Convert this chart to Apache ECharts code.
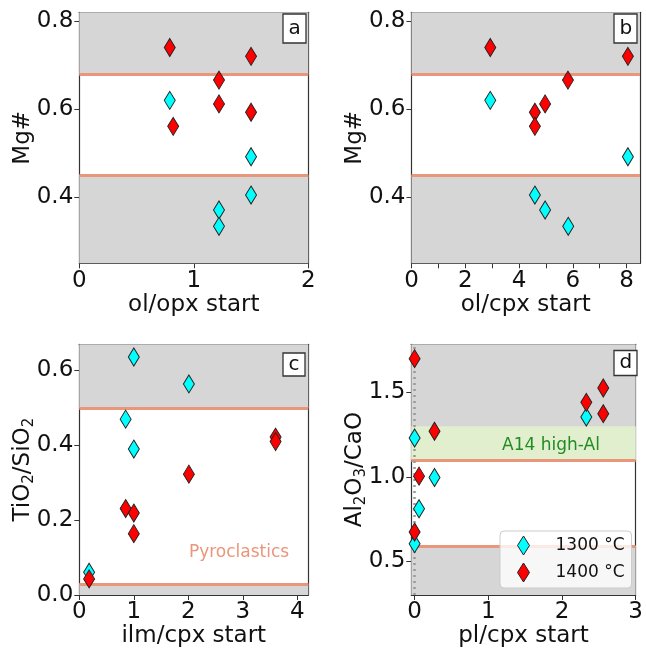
<!DOCTYPE html>
<html><head><meta charset="utf-8">
<script src="https://cdn.jsdelivr.net/npm/echarts@6/dist/echarts.min.js"></script>
<style>html,body{margin:0;padding:0;background:#fff}#c{width:646px;height:653px}</style>
</head><body><div id="c"></div>
<script>
// ---- data ----
const seriesNames = ['1300 °C', '1400 °C'];
// panel a: ol/opx start vs Mg#
const a_x_1300 = [0.79, 1.50, 1.50, 1.22, 1.22];
const a_y_1300 = [0.620, 0.492, 0.405, 0.371, 0.334];
const a_x_1400 = [0.79, 1.50, 1.22, 1.22, 1.50, 0.82];
const a_y_1400 = [0.740, 0.720, 0.666, 0.612, 0.593, 0.561];
// panel b: ol/cpx start vs Mg#
const b_x_1300 = [2.93, 8.05, 4.59, 4.97, 5.83];
const b_y_1300 = [0.620, 0.492, 0.405, 0.371, 0.334];
const b_x_1400 = [2.93, 8.05, 5.82, 4.97, 4.59, 4.59];
const b_y_1400 = [0.740, 0.720, 0.666, 0.612, 0.593, 0.561];
// panel c: ilm/cpx start vs TiO2/SiO2
const c_x_1300 = [1.00, 2.01, 0.85, 1.00, 0.18];
const c_y_1300 = [0.636, 0.564, 0.470, 0.390, 0.061];
const c_x_1400 = [0.18, 0.85, 1.00, 1.00, 2.01, 3.60, 3.60];
const c_y_1400 = [0.043, 0.231, 0.219, 0.164, 0.323, 0.422, 0.410];
// panel d: pl/cpx start vs Al2O3/CaO
const d_x_1300 = [2.33, 0.00, 0.27, 0.06, 0.00];
const d_y_1300 = [1.354, 1.230, 0.996, 0.811, 0.604];
const d_x_1400 = [0.00, 2.56, 2.33, 2.56, 0.27, 0.06, 0.00];
const d_y_1400 = [1.700, 1.526, 1.441, 1.374, 1.270, 1.004, 0.673];
// reference ranges
const a_range = [0.45, 0.68];
const c_range = [0.03, 0.50];
const d_range = [0.59, 1.10];
const d_highAl = [1.10, 1.30];
// axes
const xTicks = [[0, 1, 2], [0, 2, 4, 6, 8], [0, 1, 2, 3, 4], [0, 1, 2, 3]];
const xMinor = [null, [0, 1, 2, 3, 4, 5, 6, 7, 8], null, null];
const yTicks = [[0.4, 0.6, 0.8], [0.4, 0.6, 0.8], [0.0, 0.2, 0.4, 0.6], [0.5, 1.0, 1.5]];
const xLim = [[0, 2], [0, 8.5], [0, 4.2], [-0.045, 3]];
const yLim = [[0.25, 0.82], [0.25, 0.82], [0, 0.67], [0.3, 1.785]];
const xNames = ['ol/opx start', 'ol/cpx start', 'ilm/cpx start', 'pl/cpx start'];
const yNames = ['Mg#', 'Mg#', 'TiO{s|2}/SiO{s|2}', 'Al{s|2}O{s|3}/CaO'];
const panelLetters = ['a', 'b', 'c', 'd'];

// ---- styling ----
const FONT = 'DejaVu Sans';
const GRAY = '#d6d6d6';
const SALMON = '#e9967a';
const COLORS = ['#00ffff', '#ff0000'];
const TICK_FS = 23, NAME_FS = 23;
const grids = [
  {left: 79.3, top: 12.3, width: 229, height: 251},
  {left: 411.5, top: 12.3, width: 228.5, height: 251},
  {left: 79.3, top: 344.3, width: 229, height: 250.7},
  {left: 411.3, top: 344.3, width: 229, height: 250.7}
];
const boxes = [
  {left: 283, top: 14, pad: [4.5, 5.5]},
  {left: 614, top: 14, pad: [4.5, 5.5]},
  {left: 283, top: 353, pad: [1.5, 5.5]},
  {left: 614, top: 350, pad: [3, 5.5]}
];
const zip = (xs, ys) => xs.map((x, i) => [x, ys[i]]);
const fmt1 = v => (Math.abs(v) < 1e-9 ? '0.0' : v.toFixed(1));

const xAxes = [], yAxes = [], series = [];
for (let i = 0; i < 4; i++) {
  xAxes.push({
    gridIndex: i, type: 'value', min: xLim[i][0], max: xLim[i][1],
    splitLine: {show: false},
    axisLine: {show: true, onZero: false, lineStyle: {color: '#333', width: 1.2}},
    axisTick: {show: true, length: 5, customValues: xMinor[i] || xTicks[i], lineStyle: {color: '#333'}},
    axisLabel: {customValues: xTicks[i], fontSize: TICK_FS, color: '#111', fontFamily: FONT, margin: 6,
      formatter: v => String(v)},
    name: xNames[i], nameLocation: 'middle', nameGap: 30, nameMoveOverlap: false,
    nameTextStyle: {fontSize: NAME_FS, color: '#111', fontFamily: FONT}
  });
  xAxes.push({
    gridIndex: i, type: 'value', position: 'top', min: xLim[i][0], max: xLim[i][1],
    splitLine: {show: false}, axisTick: {show: false}, axisLabel: {show: false},
    axisLine: {show: true, onZero: false, lineStyle: {color: '#333', width: 1.2}}
  });
  yAxes.push({
    gridIndex: i, type: 'value', min: yLim[i][0], max: yLim[i][1],
    splitLine: {show: false},
    axisLine: {show: true, onZero: false, lineStyle: {color: '#333', width: 1.2}},
    axisTick: {show: true, length: 5, customValues: yTicks[i], lineStyle: {color: '#333'}},
    axisLabel: {customValues: yTicks[i], fontSize: TICK_FS, color: '#111', fontFamily: FONT, margin: 6,
      formatter: fmt1},
    name: yNames[i], nameLocation: 'middle', nameGap: 43, nameMoveOverlap: false,
    nameTextStyle: {fontSize: NAME_FS, color: '#111', fontFamily: FONT, lineHeight: 27,
      rich: {s: {fontSize: 15, lineHeight: 12, verticalAlign: 'bottom', fontFamily: FONT, color: '#111'}}}
  });
  yAxes.push({
    gridIndex: i, type: 'value', position: 'right', min: yLim[i][0], max: yLim[i][1],
    splitLine: {show: false}, axisTick: {show: false}, axisLabel: {show: false},
    axisLine: {show: true, onZero: false, lineStyle: {color: '#333', width: 1.2}}
  });
}

// background series with shaded regions and lines
function bgSeries(i, areas, lines, extraLines, points) {
  return {
    type: 'scatter', xAxisIndex: 2 * i, yAxisIndex: 2 * i, data: [], z: 1, silent: true,
    markArea: {silent: true, z: 1, data: areas},
    markLine: {silent: true, z: 2, symbol: 'none', label: {show: false}, animation: false,
      data: lines.concat(extraLines || [])},
    markPoint: points ? {silent: true, z: 2, symbol: 'circle', symbolSize: 0, data: points} : undefined
  };
}
const hLine = v => ({yAxis: v, lineStyle: {color: SALMON, width: 3, type: 'solid'}});
const grayArea = (lo, hi) => [{yAxis: lo, itemStyle: {color: GRAY}}, {yAxis: hi}];

series.push(bgSeries(0, [grayArea(a_range[1], yLim[0][1]), grayArea(yLim[0][0], a_range[0])], a_range.map(hLine)));
series.push(bgSeries(1, [grayArea(a_range[1], yLim[1][1]), grayArea(yLim[1][0], a_range[0])], a_range.map(hLine)));
series.push(bgSeries(2, [grayArea(c_range[1], yLim[2][1]), grayArea(yLim[2][0], c_range[0])], c_range.map(hLine), [],
  [{coord: [2.93, 0.113], label: {show: true, position: 'inside', formatter: 'Pyroclastics', color: SALMON, fontSize: 17, fontFamily: FONT}}]));
series.push(bgSeries(3, [
    grayArea(d_range[1], yLim[3][1]),
    grayArea(yLim[3][0], d_range[0]),
    [{yAxis: d_highAl[0], itemStyle: {color: '#e2efcf'}}, {yAxis: d_highAl[1]}]
  ], d_range.map(hLine),
  [{xAxis: 0, lineStyle: {color: '#999', width: 2.5, type: [2, 4]}}],
  [{coord: [1.85, 1.185], label: {show: true, position: 'inside', formatter: 'A14 high-Al', color: '#228b22', fontSize: 17, fontFamily: FONT}}]));

const pts = [[a_x_1300, a_y_1300, a_x_1400, a_y_1400], [b_x_1300, b_y_1300, b_x_1400, b_y_1400],
             [c_x_1300, c_y_1300, c_x_1400, c_y_1400], [d_x_1300, d_y_1300, d_x_1400, d_y_1400]];
for (let i = 0; i < 4; i++) {
  for (let k = 0; k < 2; k++) {
    series.push({
      type: 'scatter', name: seriesNames[k], xAxisIndex: 2 * i, yAxisIndex: 2 * i, z: 3 + k,
      symbol: 'diamond', symbolSize: [11, 18],
      itemStyle: {color: COLORS[k], borderColor: '#222', borderWidth: 1, opacity: 1},
      data: zip(pts[i][2 * k], pts[i][2 * k + 1])
    });
  }
}

const titles = panelLetters.map((t, i) => ({
  text: t, left: boxes[i].left, top: boxes[i].top, padding: boxes[i].pad,
  borderColor: '#333', borderWidth: 1.3, backgroundColor: '#fff',
  textStyle: {fontSize: 20, fontWeight: 'normal', color: '#111', fontFamily: FONT, lineHeight: 20}
}));

const chart = echarts.init(document.getElementById('c'), null, {renderer: 'canvas'});
chart.setOption({
  animation: false,
  backgroundColor: '#fff',
  title: titles,
  grid: grids,
  xAxis: xAxes,
  yAxis: yAxes,
  legend: {
    data: seriesNames, orient: 'vertical', left: 500, top: 531,
    itemWidth: 12, itemHeight: 19, itemGap: 7, padding: [4.5, 7, 5.5, 17],
    backgroundColor: 'rgba(255,255,255,0.8)', borderColor: '#ccc', borderWidth: 1, borderRadius: 4,
    icon: 'diamond', selectedMode: false,
    itemStyle: {borderColor: '#222', borderWidth: 1},
    textStyle: {fontSize: 17, color: '#111', fontFamily: FONT, padding: [0, 0, 0, 21]}
  },
  series: series
});
</script></body></html>
